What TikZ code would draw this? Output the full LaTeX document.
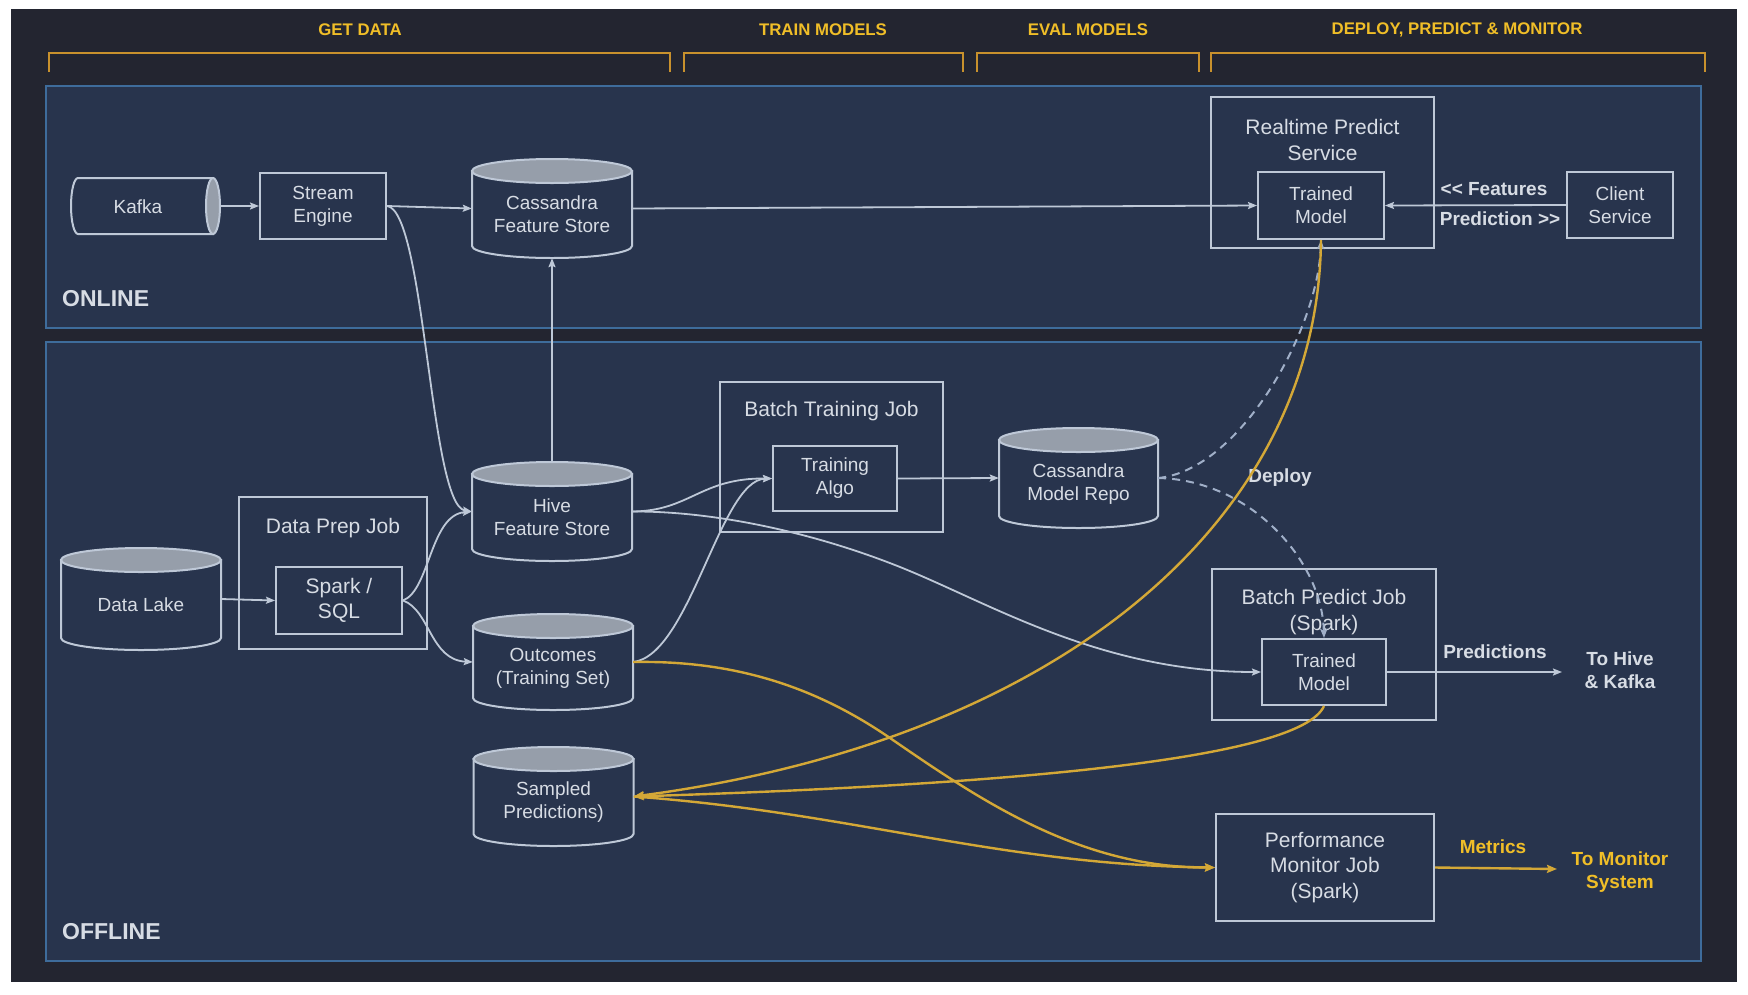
\documentclass[tikz,border=0pt]{standalone}
\usepackage{fontspec}
\setmainfont{Liberation Sans}
\usetikzlibrary{arrows.meta,calc}
\definecolor{bgdark}{RGB}{35,37,48}
\definecolor{panelC}{RGB}{40,52,77}
\definecolor{frameC}{RGB}{62,108,155}
\definecolor{lineC}{RGB}{190,200,215}
\definecolor{textC}{RGB}{215,220,228}
\definecolor{cyltopC}{RGB}{150,158,170}
\definecolor{goldC}{RGB}{212,168,55}
\definecolor{goldT}{RGB}{240,190,40}
\definecolor{brkC}{RGB}{200,145,45}
\definecolor{dashC}{RGB}{160,175,200}
\newcommand{\dbcyl}[6]{%
 \pgfmathsetmacro{\cxA}{#2}\pgfmathsetmacro{\cyA}{#3}%
 \pgfmathsetmacro{\hwA}{#4/2}\pgfmathsetmacro{\hhA}{#5/2}%
 \pgfmathsetmacro{\tA}{\cyA-\hhA+12}\pgfmathsetmacro{\bA}{\cyA+\hhA-12}%
 \pgfmathsetmacro{\lA}{\cxA-\hwA}\pgfmathsetmacro{\rA}{\cxA+\hwA}%
 \filldraw[cylline] (\lA,\tA) -- (\lA,\bA) arc[start angle=180,end angle=360,x radius=\hwA pt,y radius=12pt] -- (\rA,\tA) -- cycle;
 \filldraw[cyltop] (\cxA,\tA) ellipse[x radius=\hwA pt,y radius=12pt];
 \node[minimum width=#4pt,minimum height=#5pt,inner sep=0pt] (#1) at (\cxA,\cyA) {};
 \node[txt] (#1t) at (\cxA,\cyA+6) {#6};
}
\begin{document}
\begin{tikzpicture}[x=1pt,y=-1pt,
 txt/.style={text=textC, align=center, inner sep=0pt, font=\fontsize{19}{23}\selectfont},
 big/.style={text=textC, align=center, inner sep=0pt, font=\fontsize{21}{25.5}\selectfont},
 box/.style={draw=lineC, line width=2pt, fill=panelC, txt},
 lbl/.style={text=textC, align=center, inner sep=0pt, font=\bfseries\fontsize{19}{23}\selectfont},
 glbl/.style={lbl, text=goldT},
 hdr/.style={text=goldT, inner sep=0pt, font=\bfseries\fontsize{16.8}{20}\selectfont},
 sect/.style={text=textC, inner sep=0pt, anchor=west, font=\bfseries\fontsize{23}{27}\selectfont},
 cylline/.style={draw=lineC, line width=2pt, fill=panelC},
 cyltop/.style={draw=lineC, line width=2pt, fill=cyltopC},
 flow/.style={draw=lineC, line width=1.8pt, -{Stealth[length=9pt,width=7pt,inset=1.5pt]}},
 gflow/.style={draw=goldC, line width=2.4pt, -{Stealth[length=10pt,width=8pt,inset=1.5pt]}},
 dflow/.style={draw=dashC, line width=2pt, dash pattern=on 8pt off 6pt, -{Stealth[length=9pt,width=7pt,inset=1.5pt]}},
 brk/.style={draw=brkC, line width=2.2pt},
 panelframe/.style={draw=frameC, line width=2pt, fill=panelC}]
\useasboundingbox (0,0) rectangle (1748,994);
\fill[white] (0,0) rectangle (1748,994);
\fill[bgdark] (11,9) rectangle (1737,982);
% panels
\draw[panelframe] (46,86) rectangle (1701,328);
\draw[panelframe] (46,342) rectangle (1701,961);
% brackets
\draw[brk] (49,72) -- (49,53) -- (670,53) -- (670,72);
\draw[brk] (684,72) -- (684,53) -- (963,53) -- (963,72);
\draw[brk] (977,72) -- (977,53) -- (1199,53) -- (1199,72);
\draw[brk] (1211,72) -- (1211,53) -- (1705,53) -- (1705,72);
\node[hdr] (hGet) at (360,30) {GET DATA};
\node[hdr] (hTrain) at (823,30) {TRAIN MODELS};
\node[hdr] (hEval) at (1088,30) {EVAL MODELS};
\node[hdr] (hDeploy) at (1457,30) {DEPLOY, PREDICT \& MONITOR};
\node[sect] (lOnline) at (62,299) {ONLINE};
\node[sect] (lOffline) at (62,932) {OFFLINE};
% ---------- online
\filldraw[cylline] (78,178) -- (213,178) -- (213,234) -- (78,234) arc[start angle=270,end angle=90,x radius=7pt,y radius=28pt] -- cycle;
\filldraw[cyltop] (213,206) ellipse[x radius=7pt,y radius=28pt];
\node[minimum width=149pt,minimum height=56pt,inner sep=0pt] (kafka) at (145.5,206) {};
\node[txt] (kafkat) at (138,207) {Kafka};
\node[box, minimum width=126pt, minimum height=66pt] (stream) at (323,206) {Stream\\Engine};
\dbcyl{cfs}{552}{208.5}{160}{99}{Cassandra\\Feature Store}
\node[box, minimum width=223pt, minimum height=151pt] (rps) at (1322.5,172.5) {};
\node[big] (rpst) at (1322.5,140) {Realtime Predict\\Service};
\node[box, minimum width=126pt, minimum height=67pt] (rtm) at (1321,205.5) {Trained\\Model};
\node[box, minimum width=106pt, minimum height=66pt] (client) at (1620,205) {Client\\Service};
\node[lbl] (featL) at (1494,189) {{<}{<} Features};
\node[lbl] (predictL) at (1500,219) {Prediction {>}{>}};
% ---------- offline
\dbcyl{lake}{141}{599}{160}{102}{Data Lake}
\node[box, minimum width=188pt, minimum height=152pt] (prep) at (333,573) {};
\node[big] (prept) at (333,528) {Data Prep Job};
\node[box, big, minimum width=126pt, minimum height=67pt] (spark) at (339,600.5) {Spark /\\SQL};
\dbcyl{hive}{552}{511.5}{160}{99}{Hive\\Feature Store}
\dbcyl{outc}{553}{662}{160}{96}{Outcomes\\(Training Set)}
\dbcyl{samp}{553.5}{796.5}{160}{99}{Sampled\\Predictions)}
\node[box, minimum width=223pt, minimum height=150pt] (btj) at (831.5,457) {};
\node[big] (btjt) at (831.5,411) {Batch Training Job};
\node[box, minimum width=124pt, minimum height=65pt] (algo) at (835,478.5) {Training\\Algo};
\dbcyl{repo}{1078.5}{478}{159}{100}{Cassandra\\Model Repo}
\node[box, minimum width=224pt, minimum height=151pt] (bpj) at (1324,644.5) {};
\node[big] (bpjt) at (1324,612) {Batch Predict Job\\(Spark)};
\node[box, minimum width=124pt, minimum height=66pt] (btm) at (1324,672) {Trained\\Model};
\coordinate (hiveout) at (1562,672);
\node[lbl] (predsL) at (1495,652) {Predictions};
\node[lbl] (toHive) at (1620,670) {To Hive\\\& Kafka};
\node[box, big, minimum width=218pt, minimum height=107pt] (pm) at (1325,867.5) {Performance\\Monitor Job\\(Spark)};
\coordinate (monout) at (1557,869);
\node[glbl] (metL) at (1493,847) {Metrics};
\node[glbl] (toMon) at (1620,872) {To Monitor\\System};
\node[lbl] (deployL) at (1280,478) {Deploy};
% ---------- white connectors
\draw[flow] (kafka.east) -- (stream.west);
\draw[flow] (stream.east) -- (cfs.west);
\draw[flow] (cfs.east) -- (rtm.west);
\draw[flow] (client.west) -- (rtm.east);
\draw[flow] (stream.east) .. controls (425,210) and (430,505) .. (hive.west);
\draw[flow] (hive.north) -- (cfs.south);
\draw[flow] (lake.east) -- (spark.west);
\draw[flow] (spark.east) .. controls (430,590) and (430,515) .. (hive.west);
\draw[flow] (spark.east) .. controls (430,610) and (430,660) .. (outc.west);
\draw[flow] (hive.east) .. controls (690,511) and (700,478) .. (algo.west);
\draw[flow] (outc.east) .. controls (690,655) and (720,480) .. (algo.west);
\draw[flow] (algo.east) -- (repo.west);
\draw[flow] (hive.east) .. controls (720,511) and (820,535) .. (900,567) .. controls (990,603) and (1100,672) .. (btm.west);
\draw[flow] (btm.east) -- (hiveout);
% ---------- dashed deploy
\draw[dflow] (repo.east) .. controls (1240,470) and (1318,330) .. (rtm.south);
\draw[dflow] (repo.east) .. controls (1250,480) and (1322,560) .. (btm.north);
% ---------- gold connectors
\draw[gflow] (rtm.south) .. controls (1318,520) and (1060,740) .. (samp.east);
\draw[gflow] (btm.south) .. controls (1300,760) and (1000,785) .. (samp.east);
\draw[gflow] (outc.east) .. controls (740,660) and (820,690) .. (890,738) .. controls (980,800) and (1080,868) .. (pm.west);
\draw[gflow] (samp.east) .. controls (850,812) and (1000,865) .. (pm.west);
\draw[gflow] (pm.east) -- (monout);
\end{tikzpicture}
\end{document}
